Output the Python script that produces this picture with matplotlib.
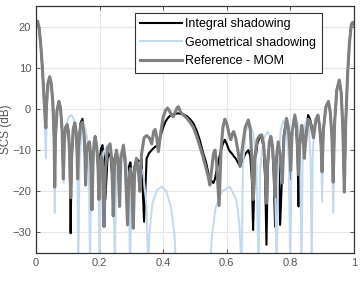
import matplotlib
matplotlib.use('Agg')
import matplotlib.pyplot as plt

# --- values: x normalised (0..1), SCS in dB ---
# Reference - MOM (grey) and Integral shadowing (black) share the same x samples
x = [0.000, 0.005, 0.010, 0.015, 0.020, 0.025, 0.029, 0.031, 0.033, 0.037,
     0.043, 0.048, 0.053, 0.057, 0.059, 0.061, 0.066, 0.072, 0.077, 0.082,
     0.086, 0.089, 0.093, 0.098, 0.102, 0.106, 0.109, 0.112, 0.117, 0.122,
     0.126, 0.129, 0.131, 0.134, 0.140, 0.146, 0.151, 0.154, 0.156, 0.159,
     0.164, 0.168, 0.172, 0.176, 0.180, 0.186, 0.191, 0.195, 0.198, 0.201,
     0.205, 0.209, 0.214, 0.218, 0.225, 0.233, 0.238, 0.243, 0.247, 0.253,
     0.258, 0.263, 0.267, 0.275, 0.280, 0.288, 0.292, 0.297, 0.301, 0.306,
     0.310, 0.316, 0.321, 0.327, 0.332, 0.340, 0.348, 0.356, 0.364, 0.370,
     0.375, 0.380, 0.385, 0.392, 0.400, 0.408, 0.414, 0.420, 0.426, 0.432,
     0.438, 0.444, 0.448, 0.455, 0.465, 0.475, 0.485, 0.495, 0.505, 0.515,
     0.525, 0.535, 0.542, 0.547, 0.552, 0.558, 0.563, 0.568, 0.576, 0.582,
     0.588, 0.594, 0.600, 0.607, 0.613, 0.618, 0.622, 0.628, 0.635, 0.642,
     0.650, 0.658, 0.668, 0.674, 0.679, 0.683, 0.688, 0.696, 0.703, 0.710,
     0.716, 0.721, 0.725, 0.729, 0.734, 0.739, 0.744, 0.748, 0.752, 0.756,
     0.762, 0.768, 0.775, 0.780, 0.788, 0.794, 0.798, 0.801, 0.805, 0.814,
     0.819, 0.823, 0.826, 0.830, 0.836, 0.840, 0.844, 0.848, 0.856, 0.862,
     0.873, 0.880, 0.887, 0.892, 0.897, 0.900, 0.904, 0.912, 0.920, 0.926,
     0.931, 0.935, 0.939, 0.946, 0.954, 0.960, 0.965, 0.970, 0.974, 0.980,
     0.986, 0.992, 0.996, 1.000]

ref_mom = [21.0, 21.3, 19.5, 15.5, 10.0, 3.0, -2.5, -4.6, 1.0, 6.0,
           7.8, 6.2, 1.5, -7.0, -19.0, -7.0, -0.5, 1.8, 0.3, -5.0,
           -17.0, -8.0, -4.5, -3.8, -5.5, -11.0, -21.6, -12.0, -5.0, -3.4,
           -5.5, -10.0, -17.0, -9.0, -4.0, -3.2, -6.0, -11.0, -18.5, -11.0,
           -8.5, -8.0, -11.0, -24.5, -11.0, -6.7, -9.0, -14.0, -22.0, -14.0,
           -11.5, -13.5, -28.6, -15.0, -9.5, -8.5, -12.0, -26.0, -14.0, -10.0,
           -13.0, -23.7, -12.0, -8.8, -12.0, -28.2, -17.0, -14.5, -18.0, -29.0,
           -16.0, -12.0, -14.0, -20.0, -11.0, -7.0, -6.5, -7.0, -8.5, -5.5,
           -5.0, -7.0, -10.4, -6.0, -2.0, -0.3, 0.2, -0.5, -1.5, -1.9,
           -0.8, 0.3, 0.5, -0.8, -1.6, -2.3, -3.3, -4.5, -6.5, -9.0,
           -11.5, -14.5, -16.5, -18.5, -15.0, -11.0, -10.0, -13.0, -23.5, -10.0,
           -4.5, -2.5, -3.5, -6.0, -7.5, -6.0, -5.5, -7.0, -10.0, -14.0,
           -9.0, -4.5, -2.7, -5.0, -12.0, -22.0, -12.0, -7.5, -6.5, -6.3,
           -8.5, -14.0, -22.9, -13.0, -8.0, -6.7, -9.0, -14.0, -21.3, -12.0,
           -8.0, -11.0, -18.0, -7.0, -2.3, -4.5, -9.0, -15.0, -6.0, -1.5,
           -4.0, -10.0, -16.0, -8.0, -4.0, -6.0, -12.0, -8.0, -2.5, -3.0,
           -7.0, -3.0, -1.5, -4.0, -9.0, -15.3, -5.0, 0.5, 1.8, -1.0,
           -7.0, -17.8, -4.0, 4.5, 7.0, 4.0, -4.0, -20.2, -4.0, 8.0,
           16.0, 20.5, 21.0, 20.5]

integral = [21.0, 21.3, 19.5, 15.5, 10.0, 3.0, -2.5, -4.6, 1.0, 6.0,
            7.8, 6.2, 1.5, -7.0, -19.0, -7.0, -0.5, 1.8, 0.3, -5.0,
            -17.0, -8.0, -4.5, -3.8, -5.5, -11.0, -30.2, -12.0, -5.0, -3.4,
            -5.5, -10.0, -17.0, -9.0, -3.5, -2.4, -5.5, -11.0, -18.5, -11.0,
            -9.5, -10.0, -13.0, -24.5, -11.0, -6.7, -9.0, -14.0, -20.0, -12.0,
            -9.5, -8.8, -12.0, -22.0, -12.0, -10.0, -15.0, -18.0, -12.0, -10.5,
            -12.0, -16.0, -11.0, -10.0, -13.0, -16.0, -14.0, -13.0, -16.0, -20.0,
            -14.0, -12.0, -12.5, -13.0, -12.4, -27.4, -12.0, -10.7, -10.0, -9.5,
            -9.2, -9.0, -8.8, -6.5, -4.5, -3.0, -2.3, -1.8, -1.5, -1.3,
            -1.2, -1.1, -1.1, -1.2, -1.4, -1.8, -2.5, -3.5, -5.2, -7.5,
            -10.5, -13.0, -15.5, -17.0, -17.5, -18.0, -17.0, -15.0, -12.0, -10.0,
            -8.5, -7.5, -8.5, -10.0, -10.6, -11.0, -11.5, -12.0, -13.0, -14.0,
            -12.5, -11.0, -10.0, -11.5, -17.0, -29.4, -14.0, -8.5, -7.0, -6.8,
            -9.5, -17.0, -33.0, -14.0, -8.5, -7.2, -10.0, -16.0, -28.6, -13.0,
            -8.5, -28.2, -14.0, -6.0, -2.8, -5.0, -10.0, -17.0, -6.5, -2.0,
            -4.5, -12.0, -23.7, -9.0, -4.5, -6.0, -11.0, -7.0, -1.5, -2.5,
            -6.0, -2.5, -1.5, -4.5, -9.0, -15.0, -5.0, 0.5, 1.8, -1.0,
            -7.0, -17.8, -4.0, 4.5, 7.0, 4.0, -4.0, -20.2, -4.0, 8.0,
            16.0, 20.5, 21.0, 20.5]

# Geometrical shadowing (light blue); -40 means below the axis floor
geo_x = [0.000, 0.006, 0.012, 0.020, 0.026, 0.031, 0.035, 0.043, 0.050, 0.056,
         0.059, 0.062, 0.067, 0.072, 0.078, 0.083, 0.087, 0.091, 0.098, 0.105,
         0.112, 0.119, 0.126, 0.130, 0.133, 0.137, 0.143, 0.152, 0.160, 0.166,
         0.170, 0.174, 0.180, 0.185, 0.191, 0.197, 0.200, 0.204, 0.212, 0.224,
         0.236, 0.244, 0.248, 0.252, 0.261, 0.272, 0.283, 0.292, 0.296, 0.300,
         0.312, 0.325, 0.338, 0.348, 0.353, 0.357, 0.366, 0.380, 0.395, 0.410,
         0.425, 0.436, 0.442, 0.547, 0.553, 0.565, 0.585, 0.610, 0.630, 0.640,
         0.647, 0.651, 0.660, 0.672, 0.684, 0.694, 0.700, 0.705, 0.715, 0.728,
         0.741, 0.751, 0.757, 0.762, 0.770, 0.778, 0.787, 0.795, 0.800, 0.804,
         0.810, 0.817, 0.825, 0.831, 0.835, 0.839, 0.845, 0.851, 0.858, 0.864,
         0.867, 0.871, 0.877, 0.884, 0.891, 0.897, 0.900, 0.904, 0.911, 0.918,
         0.925, 0.931, 0.935, 0.939, 0.946, 0.953, 0.960, 0.966, 0.970, 0.974,
         0.980, 0.986, 0.993, 1.000]
geo_y = [20.5, 20.8, 18.0, 9.5, 0.0, -12.0, 1.0, 7.3, 4.0, -5.0,
         -25.3, -6.0, 0.0, 1.3, -0.5, -6.0, -18.0, -7.0, -3.0, -1.8,
         -1.5, -2.5, -7.0, -14.0, -40.0, -13.0, -6.0, -4.0, -6.5, -14.0,
         -40.0, -14.0, -8.0, -6.5, -9.0, -17.0, -40.0, -17.0, -10.5, -9.0,
         -11.0, -18.0, -40.0, -18.0, -11.5, -10.0, -12.0, -19.0, -40.0, -20.0,
         -14.0, -13.0, -16.0, -24.0, -40.0, -30.0, -23.0, -19.8, -18.9, -20.0,
         -24.0, -31.0, -40.0, -40.0, -31.0, -24.0, -20.0, -18.9, -22.0, -28.0,
         -40.0, -14.0, -5.5, -3.5, -6.0, -14.0, -40.0, -15.0, -7.5, -5.5,
         -7.5, -15.0, -40.0, -14.0, -5.0, -2.8, -4.5, -12.0, -40.0, -12.0,
         -3.0, -1.8, -4.0, -12.0, -40.0, -12.0, -4.0, -2.8, -4.5, -12.0,
         -40.0, -10.0, -3.0, -1.5, -3.0, -10.0, -22.6, -7.0, 0.0, 1.5,
         -0.5, -8.0, -25.3, -5.0, 4.5, 6.8, 4.0, -5.0, -20.0, -4.0,
         8.0, 15.5, 20.3, 20.3]

plt.rcParams['font.family'] = ['Liberation Sans', 'DejaVu Sans']

fig = plt.figure(figsize=(3.6, 2.83), dpi=100)
ax = fig.add_axes([0.1, 0.106, 0.883, 0.873])

# same order as the original figure: grey reference drawn last, on top
ax.plot(x, integral, color='black', lw=1.5, label='Integral shadowing')
ax.plot(geo_x, geo_y, color='#c2d9f0', lw=1.4, label='Geometrical shadowing')
ax.plot(x, ref_mom, color='#808080', lw=2.2, label='Reference - MOM')

ax.set_xlim(0, 1)
ax.set_ylim(-35, 25)
ax.set_xticks([0, 0.2, 0.4, 0.6, 0.8, 1])
ax.set_xticklabels(['0', '0.2', '0.4', '0.6', '0.8', '1'])
ax.set_yticks([-30, -20, -10, 0, 10, 20])
ax.set_ylabel('SCS (dB)', fontsize=8.5, color='#555555')
ax.yaxis.set_label_coords(-0.075, 0.5)
ax.grid(True, color='#e6e6e6', lw=0.8)
ax.set_axisbelow(True)
ax.tick_params(direction='in', length=3, width=0.6, labelsize=8,
               labelcolor='#555555', color='#444444', top=True, right=True)
for s in ax.spines.values():
    s.set_color('#333333')
    s.set_linewidth(0.9)

leg = ax.legend(loc='upper left', bbox_to_anchor=(0.311, 0.972), fontsize=9,
                frameon=True, fancybox=False, edgecolor='#333333', framealpha=1,
                handlelength=3.3, handletextpad=0.3, borderpad=0.45,
                labelspacing=0.5, borderaxespad=0)
leg.get_frame().set_linewidth(0.8)

fig.savefig('out.png', dpi=100)
